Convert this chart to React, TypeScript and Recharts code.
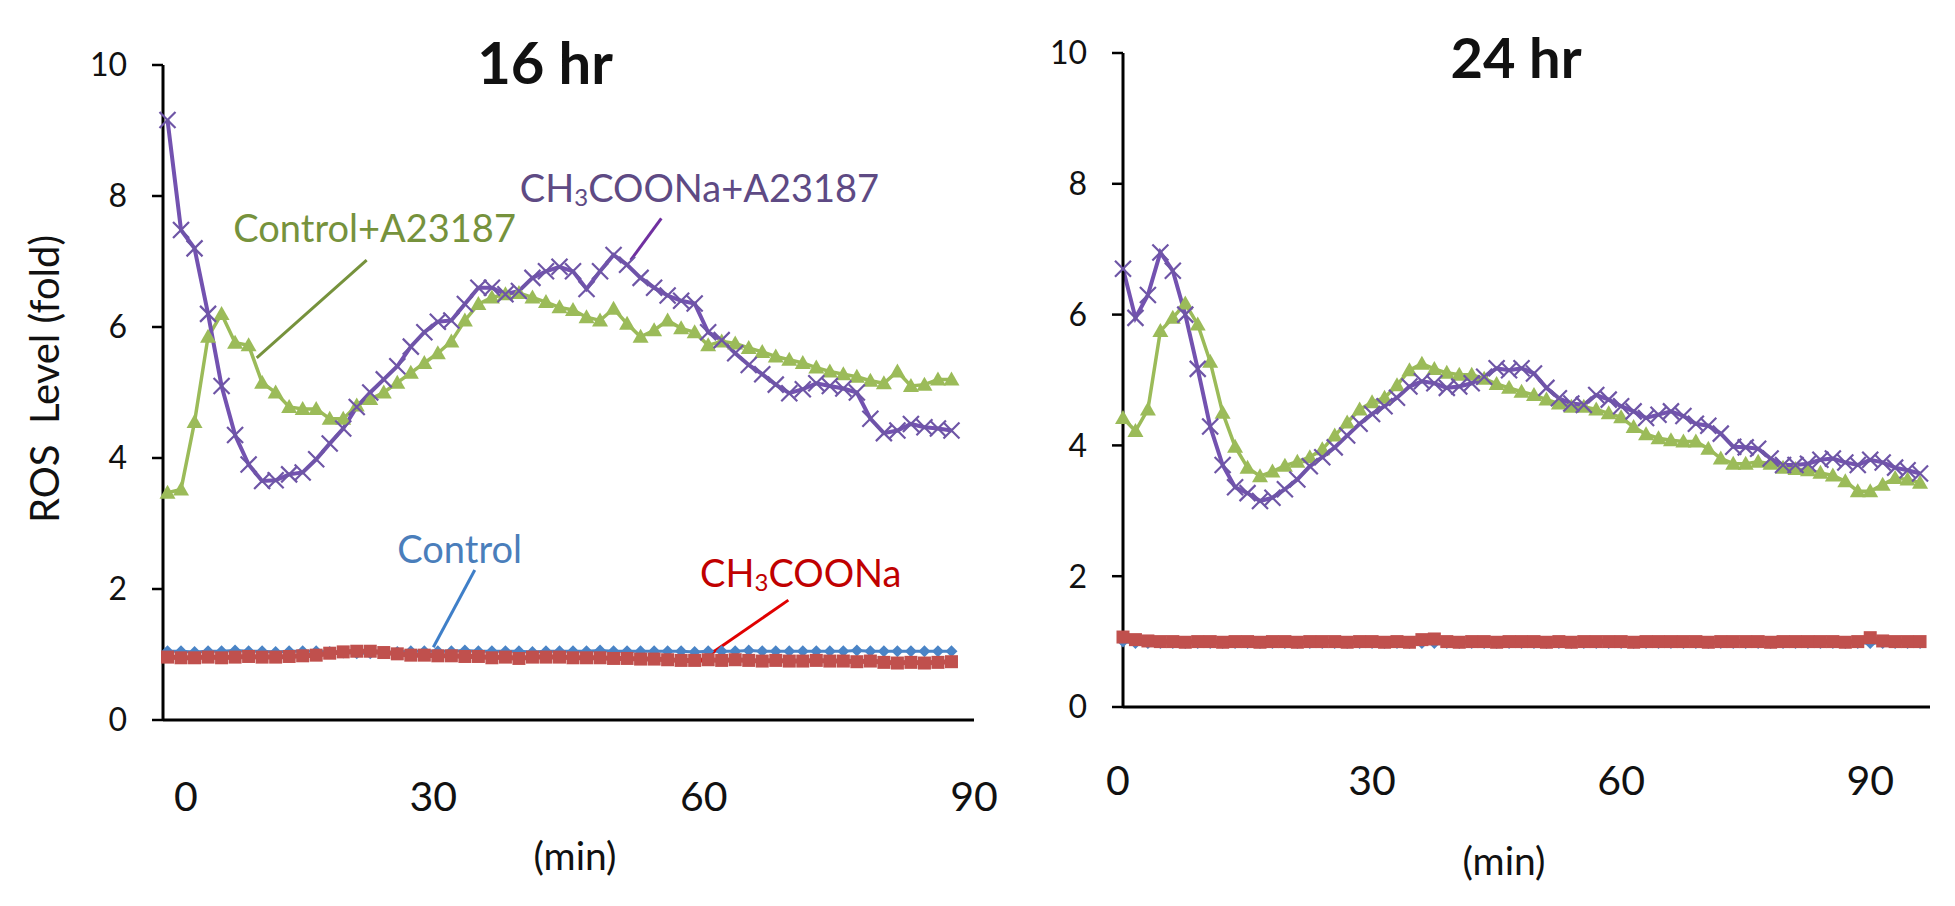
import { LineChart, Line, XAxis, YAxis, ReferenceLine, ReferenceDot } from "recharts";

// ---- 16 hr panel: sampling times (min) and ROS readings (fold) ----
const minutes16 = [
  0.5, 2, 3.5, 5, 6.5, 8, 9.5, 11, 12.5, 14,
  15.5, 17, 18.5, 20, 21.5, 23, 24.5, 26, 27.5, 29,
  30.5, 32, 33.5, 35, 36.5, 38, 39.5, 41, 42.5, 44,
  45.5, 47, 48.5, 50, 51.5, 53, 54.5, 56, 57.5, 59,
  60.5, 62, 63.5, 65, 66.5, 68, 69.5, 71, 72.5, 74,
  75.5, 77, 78.5, 80, 81.5, 83, 84.5, 86, 87.5,
];
const control16 = [
  1.05, 1.05, 1.04, 1.05, 1.05, 1.06, 1.05, 1.05, 1.04, 1.05,
  1.05, 1.05, 1.04, 1.03, 1.02, 1.02, 1.03, 1.04, 1.05, 1.05,
  1.05, 1.05, 1.06, 1.05, 1.05, 1.05, 1.05, 1.04, 1.05, 1.05,
  1.05, 1.05, 1.06, 1.05, 1.05, 1.05, 1.05, 1.05, 1.05, 1.04,
  1.05, 1.05, 1.05, 1.06, 1.05, 1.05, 1.05, 1.05, 1.05, 1.05,
  1.05, 1.06, 1.05, 1.05, 1.05, 1.05, 1.05, 1.05, 1.05,
];
const naac16 = [
  0.96, 0.95, 0.95, 0.96, 0.95, 0.96, 0.97, 0.96, 0.96, 0.97,
  0.98, 0.99, 1.02, 1.04, 1.05, 1.05, 1.03, 1.01, 0.99, 0.99,
  0.98, 0.98, 0.97, 0.97, 0.95, 0.96, 0.94, 0.96, 0.96, 0.96,
  0.95, 0.95, 0.95, 0.94, 0.94, 0.93, 0.93, 0.92, 0.91, 0.91,
  0.92, 0.91, 0.92, 0.91, 0.9, 0.91, 0.9, 0.9, 0.91, 0.9,
  0.9, 0.89, 0.9, 0.88, 0.87, 0.88, 0.87, 0.88, 0.89,
];
const controlA16 = [
  3.47, 3.52, 4.55, 5.85, 6.2, 5.76, 5.72, 5.15, 5.0, 4.78,
  4.75, 4.75, 4.6, 4.6, 4.8, 4.9, 5.0, 5.15, 5.3, 5.45,
  5.6, 5.78, 6.1, 6.35, 6.45, 6.5, 6.52, 6.45, 6.38, 6.3,
  6.26, 6.15, 6.1, 6.28, 6.05, 5.85, 5.95, 6.1, 5.98, 5.92,
  5.72, 5.78, 5.75, 5.68, 5.62, 5.55, 5.5, 5.45, 5.38, 5.32,
  5.28, 5.24, 5.18, 5.14, 5.32, 5.1, 5.12, 5.2, 5.2,
];
const naacA16 = [
  9.16, 7.48, 7.2, 6.2, 5.1, 4.35, 3.9, 3.65, 3.66, 3.75,
  3.78, 3.98, 4.22, 4.45, 4.78, 5.0, 5.2, 5.4, 5.7, 5.92,
  6.08, 6.1, 6.35, 6.6, 6.6, 6.5, 6.55, 6.75, 6.85, 6.92,
  6.85, 6.58, 6.85, 7.1, 6.95, 6.75, 6.6, 6.48, 6.4, 6.36,
  5.92, 5.8, 5.6, 5.42, 5.28, 5.12, 4.99, 5.05, 5.14, 5.1,
  5.06, 5.0, 4.6, 4.38, 4.42, 4.52, 4.47, 4.45, 4.42,
];

// ---- 24 hr panel ----
const minutes24 = [
  0, 1.5, 3, 4.5, 6, 7.5, 9, 10.5, 12, 13.5,
  15, 16.5, 18, 19.5, 21, 22.5, 24, 25.5, 27, 28.5,
  30, 31.5, 33, 34.5, 36, 37.5, 39, 40.5, 42, 43.5,
  45, 46.5, 48, 49.5, 51, 52.5, 54, 55.5, 57, 58.5,
  60, 61.5, 63, 64.5, 66, 67.5, 69, 70.5, 72, 73.5,
  75, 76.5, 78, 79.5, 81, 82.5, 84, 85.5, 87, 88.5,
  90, 91.5, 93, 94.5, 96,
];
const control24 = [
  1.0, 0.98, 0.98, 0.98, 0.98, 0.98, 0.98, 0.98, 0.98, 0.98,
  0.98, 0.98, 0.98, 0.98, 0.98, 0.98, 0.98, 0.98, 0.98, 0.98,
  0.98, 0.98, 0.98, 0.98, 0.98, 0.98, 0.98, 0.98, 0.98, 0.98,
  0.98, 0.98, 0.98, 0.98, 0.98, 0.98, 0.98, 0.98, 0.98, 0.98,
  0.98, 0.98, 0.98, 0.98, 0.98, 0.98, 0.98, 0.98, 0.98, 0.98,
  0.98, 0.98, 0.98, 0.98, 0.98, 0.98, 0.98, 0.98, 0.98, 0.98,
  0.98, 0.98, 0.98, 0.98, 0.98,
];
const naac24 = [
  1.07, 1.03, 1.01, 1.0, 1.0, 0.99, 1.0, 1.0, 0.99, 1.0,
  1.0, 0.99, 1.0, 1.0, 0.99, 1.0, 1.0, 1.0, 0.99, 1.0,
  1.0, 0.99, 1.0, 0.99, 1.03, 1.04, 1.0, 0.99, 1.0, 1.0,
  0.99, 1.0, 1.0, 1.0, 0.99, 1.0, 0.99, 1.0, 1.0, 1.0,
  1.0, 0.99, 1.0, 1.0, 1.0, 1.0, 1.0, 0.99, 1.0, 1.0,
  1.0, 1.0, 0.99, 1.0, 1.0, 1.0, 1.0, 1.0, 0.99, 1.0,
  1.06, 1.01, 1.0, 1.0, 1.0,
];
const controlA24 = [
  4.42, 4.22, 4.55, 5.75, 5.95, 6.17, 5.85, 5.28, 4.5, 3.98,
  3.66, 3.53, 3.6, 3.69, 3.75, 3.82, 3.94, 4.15, 4.35, 4.55,
  4.66, 4.73, 4.92, 5.15, 5.25, 5.17, 5.11, 5.08, 5.08, 5.02,
  4.94, 4.88, 4.82, 4.77, 4.7, 4.64, 4.59, 4.59, 4.55, 4.49,
  4.43, 4.28, 4.17, 4.11, 4.08, 4.06, 4.06, 3.95, 3.8, 3.72,
  3.72, 3.75, 3.72, 3.66, 3.64, 3.62, 3.58, 3.54, 3.45, 3.3,
  3.3, 3.4, 3.5, 3.48, 3.43,
];
const naacA24 = [
  6.7, 5.95, 6.3, 6.95, 6.67, 6.0, 5.17, 4.29, 3.7, 3.36,
  3.27, 3.15, 3.2, 3.33, 3.48, 3.68, 3.82, 3.97, 4.15, 4.33,
  4.48, 4.6, 4.73, 4.9, 4.98, 4.95, 4.88, 4.9, 4.95, 5.05,
  5.18, 5.15, 5.18, 5.1, 4.88, 4.72, 4.64, 4.62, 4.77, 4.7,
  4.6, 4.52, 4.42, 4.47, 4.52, 4.45, 4.33, 4.3, 4.18, 3.98,
  3.97, 3.95, 3.8, 3.7, 3.7, 3.72, 3.78, 3.8, 3.74, 3.7,
  3.78, 3.74, 3.66, 3.62, 3.57,
];

const yTicks = [0, 2, 4, 6, 8, 10];
const minuteTicks = [0, 30, 60, 90];

const BLUE = "#4A84C6";
const RED = "#C0504D";
const GREEN = "#9BBB59";
const PURPLE = "#7352B0";
const PURPLE_MARK = "#6E55A6";
const INK = "#111";

type Row = { t: number; control: number; naac: number; controlA: number; naacA: number };

function buildRows(
  t: number[],
  control: number[],
  naac: number[],
  controlA: number[],
  naacA: number[]
): Row[] {
  return t.map((m, i) => ({
    t: m,
    control: control[i],
    naac: naac[i],
    controlA: controlA[i],
    naacA: naacA[i],
  }));
}

const rows16 = buildRows(minutes16, control16, naac16, controlA16, naacA16);
const rows24 = buildRows(minutes24, control24, naac24, controlA24, naacA24);

// marker shapes, Excel style
const crossDot = (props: any) => {
  const { cx, cy, index } = props;
  if (cx == null || cy == null) return <g key={`c-${index}`} />;
  const s = 8;
  return (
    <path
      key={`c-${index}`}
      d={`M${cx - s},${cy - s}L${cx + s},${cy + s}M${cx - s},${cy + s}L${cx + s},${cy - s}`}
      stroke={PURPLE_MARK}
      strokeWidth={2.2}
      fill="none"
    />
  );
};

const triangleDot = (props: any) => {
  const { cx, cy, index } = props;
  if (cx == null || cy == null) return <g key={`t-${index}`} />;
  return (
    <path
      key={`t-${index}`}
      d={`M${cx},${cy - 8}L${cx + 8},${cy + 6}L${cx - 8},${cy + 6}Z`}
      fill={GREEN}
    />
  );
};

const diamondDot = (props: any) => {
  const { cx, cy, index } = props;
  if (cx == null || cy == null) return <g key={`d-${index}`} />;
  const s = 6;
  return (
    <path
      key={`d-${index}`}
      d={`M${cx},${cy - s}L${cx + s},${cy}L${cx},${cy + s}L${cx - s},${cy}Z`}
      fill={BLUE}
    />
  );
};

const squareDot = (props: any) => {
  const { cx, cy, index } = props;
  if (cx == null || cy == null) return <g key={`s-${index}`} />;
  return <rect key={`s-${index}`} x={cx - 6.5} y={cy - 6.5} width={13} height={13} fill={RED} />;
};

// x tick labels; the "0" label sits a little right of its value in the original
function minuteTick(zeroShift: number) {
  return (props: any) => {
    const { x, y, payload } = props;
    const shift = payload.value === 0 ? zeroShift : 0;
    return (
      <text x={x + shift} y={y} dy="0.71em" textAnchor="middle" fontSize={41} fill={INK}>
        {payload.value}
      </text>
    );
  };
}

// series name labels with leader lines (16 hr panel only)
function seriesLabel(parts: string[], color: string) {
  return (props: any) => {
    const { cx, cy } = props;
    return (
      <text x={cx} y={cy} dominantBaseline="central" fontSize={38} fill={color}>
        {parts.length === 1 ? (
          parts[0]
        ) : (
          <>
            {parts[0]}
            <tspan fontSize={24} dy={9}>
              {parts[1]}
            </tspan>
            <tspan dy={-9}>{parts[2]}</tspan>
          </>
        )}
      </text>
    );
  };
}

function panelLines() {
  return [
    <Line
      key="control"
      type="linear"
      dataKey="control"
      stroke={BLUE}
      strokeWidth={3}
      dot={diamondDot}
      activeDot={false}
      isAnimationActive={false}
    />,
    <Line
      key="naac"
      type="linear"
      dataKey="naac"
      stroke={RED}
      strokeWidth={5}
      dot={squareDot}
      activeDot={false}
      isAnimationActive={false}
    />,
    <Line
      key="controlA"
      type="linear"
      dataKey="controlA"
      stroke={GREEN}
      strokeWidth={3.5}
      dot={triangleDot}
      activeDot={false}
      isAnimationActive={false}
    />,
    <Line
      key="naacA"
      type="linear"
      dataKey="naacA"
      stroke={PURPLE}
      strokeWidth={4}
      dot={crossDot}
      activeDot={false}
      isAnimationActive={false}
    />,
  ];
}

const yAxisProps = {
  type: "number" as const,
  domain: [0, 10],
  ticks: yTicks,
  width: 100,
  tickSize: 11,
  tickMargin: 25,
  tick: { fontSize: 32, fill: INK },
  tickLine: { stroke: "#000", strokeWidth: 2.5 },
  axisLine: { stroke: "#000", strokeWidth: 3 },
  interval: 0 as const,
};

const abs = (left: number, top: number): React.CSSProperties => ({
  position: "absolute",
  left,
  top,
  transform: "translate(-50%, -50%)",
  whiteSpace: "pre",
  lineHeight: 1,
  color: INK,
});

export default function App() {
  return (
    <div
      style={{
        position: "absolute",
        left: 0,
        top: 0,
        width: 1955,
        height: 906,
        background: "#fff",
        fontFamily: "Lato, 'Open Sans', sans-serif",
        overflow: "hidden",
      }}
    >
      <div style={{ position: "absolute", left: 0, top: 0 }}>
        <LineChart
          width={1000}
          height={906}
          data={rows16}
          margin={{ top: 65, right: 26, bottom: 0, left: 63 }}
        >
          <XAxis
            dataKey="t"
            type="number"
            domain={[0, 90]}
            ticks={minuteTicks}
            interval={0}
            height={186}
            tickLine={false}
            tickSize={0}
            tickMargin={62}
            tick={minuteTick(23)}
            axisLine={{ stroke: "#000", strokeWidth: 3 }}
          />
          <YAxis {...yAxisProps} />
          {panelLines()}
          <ReferenceLine
            segment={[{ x: 22.6, y: 7.02 }, { x: 10.4, y: 5.53 }]}
            stroke="#76923C"
            strokeWidth={3}
          />
          <ReferenceLine
            segment={[{ x: 55.3, y: 7.66 }, { x: 51.9, y: 7.02 }]}
            stroke="#7030A0"
            strokeWidth={3}
          />
          <ReferenceLine
            segment={[{ x: 34.6, y: 2.29 }, { x: 30.0, y: 1.11 }]}
            stroke="#3F7FC8"
            strokeWidth={3}
          />
          <ReferenceLine
            segment={[{ x: 69.4, y: 1.83 }, { x: 59.3, y: 0.87 }]}
            stroke="#E00000"
            strokeWidth={3}
          />
          <ReferenceDot x={7.8} y={7.53} r={0} shape={seriesLabel(["Control+A23187"], "#76923C")} />
          <ReferenceDot
            x={39.6}
            y={8.14}
            r={0}
            shape={seriesLabel(["CH", "3", "COONa+A23187"], "#5E4A84")}
          />
          <ReferenceDot x={26.0} y={2.63} r={0} shape={seriesLabel(["Control"], "#4A7EBB")} />
          <ReferenceDot x={59.6} y={2.26} r={0} shape={seriesLabel(["CH", "3", "COONa"], "#C00000")} />
        </LineChart>
      </div>

      <div style={{ position: "absolute", left: 960, top: 0 }}>
        <LineChart
          width={995}
          height={906}
          data={rows24}
          margin={{ top: 53, right: 25, bottom: 0, left: 63 }}
        >
          <XAxis
            dataKey="t"
            type="number"
            domain={[0, 97.2]}
            ticks={minuteTicks}
            interval={0}
            height={199}
            tickLine={false}
            tickSize={0}
            tickMargin={59}
            tick={minuteTick(-5)}
            axisLine={{ stroke: "#000", strokeWidth: 3 }}
          />
          <YAxis {...yAxisProps} />
          {panelLines()}
        </LineChart>
      </div>

      <div style={{ ...abs(545, 62), fontSize: 58, fontWeight: 700 }}>16 hr</div>
      <div style={{ ...abs(1516, 57), fontSize: 56, fontWeight: 700 }}>24 hr</div>
      <div style={{ ...abs(575, 855), fontSize: 39 }}>(min)</div>
      <div style={{ ...abs(1504, 860), fontSize: 39 }}>(min)</div>
      <div style={{ ...abs(44, 379), fontSize: 40, transform: "translate(-50%, -50%) rotate(-90deg)" }}>
        {"ROS  Level (fold)"}
      </div>
    </div>
  );
}
